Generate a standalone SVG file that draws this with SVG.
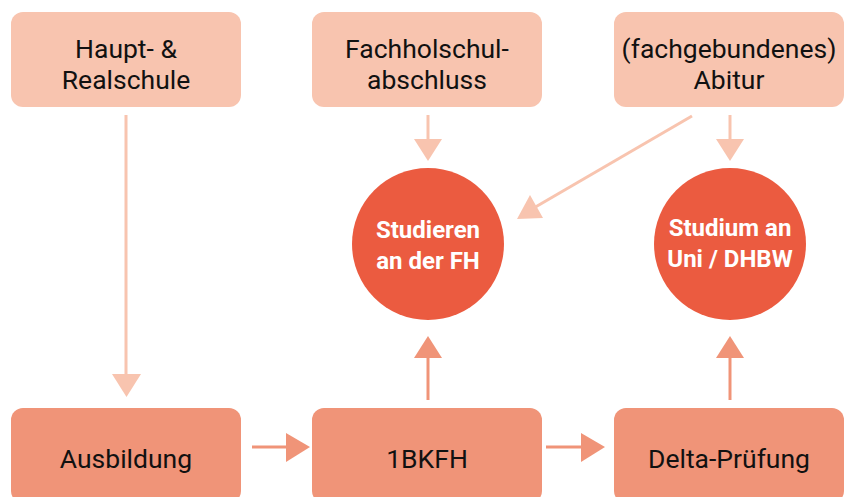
<svg xmlns="http://www.w3.org/2000/svg" width="845" height="497" viewBox="0 0 845 497">
<style>
.top{fill:#F8C4AF}
.bot{fill:#F09478}
.circ{fill:#EB5B40}
.t{font-family:Roboto,"Liberation Sans",sans-serif;font-size:26.5px;fill:#111;text-anchor:middle}
.c{font-family:Roboto,"Liberation Sans",sans-serif;font-size:24px;font-weight:bold;fill:#fff;text-anchor:middle}
.l1{stroke:#F8C4AF;stroke-width:3;fill:none}
.l2{stroke:#F09478;stroke-width:3;fill:none}
.h1{fill:#F8C4AF}
.h2{fill:#F09478}
</style>
<g id="connectors">
<line class="l1" x1="126" y1="115" x2="126" y2="376"/>
<polygon class="h1" points="112,374 141,374 126.5,397"/>
<line class="l1" x1="428" y1="115" x2="428" y2="141"/>
<polygon class="h1" points="414,139 442,139 428,161"/>
<line class="l1" x1="730" y1="115" x2="730" y2="141"/>
<polygon class="h1" points="716,139 744,139 730,161"/>
<line class="l1" x1="692" y1="116" x2="532" y2="209"/>
<polygon class="h1" points="517,219 530,195 543,218"/>
<line class="l2" x1="428" y1="400" x2="428" y2="356"/>
<polygon class="h2" points="414,358 442,358 428,336"/>
<line class="l2" x1="730" y1="400" x2="730" y2="356"/>
<polygon class="h2" points="716,358 744,358 730,336"/>
<line class="l2" x1="252" y1="447" x2="288" y2="447"/>
<polygon class="h2" points="286,433 286,462 310,447"/>
<line class="l2" x1="546" y1="447" x2="583" y2="447"/>
<polygon class="h2" points="581,433 581,462 605,447"/>
</g>
<g id="n-haupt"><rect class="top" x="11" y="12" width="230" height="95" rx="12"/><text class="t" x="126" y="58">Haupt- &amp;</text><text class="t" x="126" y="89">Realschule</text></g>
<g id="n-fachhoch"><rect class="top" x="312" y="12" width="230" height="95" rx="12"/><text class="t" x="427" y="58">Fachholschul-</text><text class="t" x="427" y="89">abschluss</text></g>
<g id="n-abitur"><rect class="top" x="614" y="12" width="230" height="95" rx="12"/><text class="t" x="729" y="58">(fachgebundenes)</text><text class="t" x="729" y="89">Abitur</text></g>
<g id="n-fh"><circle class="circ" cx="428" cy="244" r="76"/><text class="c" x="428" y="238">Studieren</text><text class="c" x="428" y="269">an der FH</text></g>
<g id="n-uni"><circle class="circ" cx="730" cy="244" r="76"/><text class="c" x="730" y="236">Studium an</text><text class="c" x="730" y="267">Uni / DHBW</text></g>
<g id="n-ausbildung"><rect class="bot" x="11" y="408" width="230" height="95" rx="12"/><text class="t" x="126" y="468">Ausbildung</text></g>
<g id="n-1bkfh"><rect class="bot" x="312" y="408" width="230" height="95" rx="12"/><text class="t" x="427" y="468">1BKFH</text></g>
<g id="n-delta"><rect class="bot" x="614" y="408" width="230" height="95" rx="12"/><text class="t" x="729" y="468">Delta-Prüfung</text></g>
</svg>
